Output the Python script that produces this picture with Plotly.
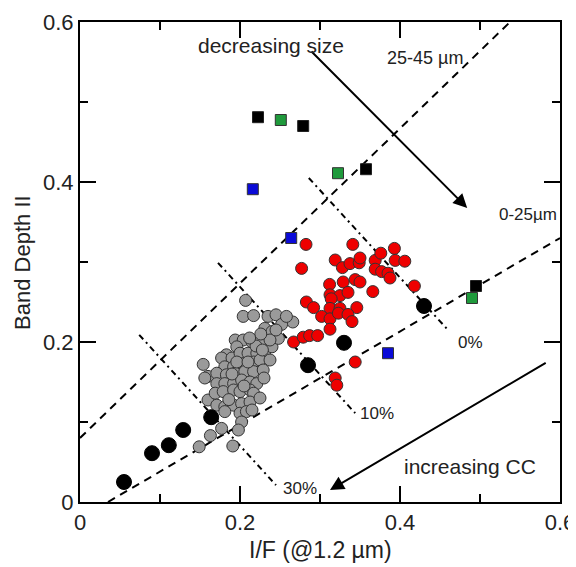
import plotly.graph_objects as go

# ---------------- data ----------------
gray_x = [0.207, 0.204, 0.217, 0.235, 0.245, 0.231, 0.240, 0.266, 0.154, 0.160,
          0.194, 0.204, 0.215, 0.225, 0.196, 0.183, 0.177, 0.190, 0.200, 0.210,
          0.221, 0.231, 0.240, 0.248, 0.2375, 0.181, 0.192, 0.204, 0.217, 0.225,
          0.2375, 0.171, 0.183, 0.194, 0.206, 0.217, 0.229, 0.171, 0.181, 0.192,
          0.202, 0.2125, 0.221, 0.160, 0.169, 0.179, 0.192, 0.200, 0.2125, 0.217,
          0.171, 0.181, 0.192, 0.202, 0.2125, 0.181, 0.200, 0.208, 0.215, 0.202,
          0.198, 0.191, 0.149, 0.163, 0.177, 0.156, 0.225, 0.230, 0.186, 0.205,
          0.196, 0.210, 0.220, 0.190, 0.252, 0.258, 0.226, 0.228, 0.245, 0.212]
gray_y = [0.252, 0.232, 0.233, 0.232, 0.234, 0.217, 0.213, 0.225, 0.172, 0.157,
          0.2025, 0.2025, 0.200, 0.200, 0.194, 0.184, 0.180, 0.180, 0.186, 0.186,
          0.186, 0.188, 0.194, 0.2045, 0.2025, 0.169, 0.169, 0.173, 0.175, 0.1775,
          0.1775, 0.161, 0.159, 0.161, 0.163, 0.163, 0.165, 0.148, 0.148, 0.148,
          0.1525, 0.150, 0.148, 0.1275, 0.136, 0.138, 0.140, 0.138, 0.140, 0.136,
          0.121, 0.119, 0.121, 0.123, 0.125, 0.113, 0.111, 0.113, 0.115, 0.100,
          0.090, 0.070, 0.069, 0.083, 0.092, 0.155, 0.130, 0.155, 0.128, 0.145,
          0.175, 0.175, 0.195, 0.160, 0.222, 0.232, 0.210, 0.190, 0.215, 0.205]

red_x = [0.2825, 0.341, 0.277, 0.319, 0.328, 0.3375, 0.349, 0.350, 0.369, 0.376,
         0.393, 0.394, 0.406, 0.369, 0.377, 0.385, 0.3875, 0.418, 0.312, 0.329,
         0.344, 0.350, 0.366, 0.3125, 0.325, 0.335, 0.283, 0.292, 0.314, 0.3125,
         0.325, 0.346, 0.302, 0.3125, 0.323, 0.335, 0.340, 0.3125, 0.267, 0.279,
         0.287, 0.297, 0.344, 0.319, 0.321]
red_y = [0.322, 0.322, 0.292, 0.3025, 0.293, 0.298, 0.299, 0.305, 0.302, 0.311,
         0.317, 0.302, 0.301, 0.291, 0.288, 0.286, 0.280, 0.270, 0.272, 0.275,
         0.278, 0.275, 0.263, 0.259, 0.258, 0.262, 0.250, 0.243, 0.254, 0.242,
         0.242, 0.243, 0.232, 0.229, 0.236, 0.2345, 0.2255, 0.216, 0.200, 0.206,
         0.208, 0.208, 0.175, 0.155, 0.146]

black_circ_x = [0.055, 0.090, 0.111, 0.129, 0.164, 0.285, 0.330, 0.430]
black_circ_y = [0.025, 0.061, 0.071, 0.090, 0.106, 0.171, 0.199, 0.245]

black_sq_x = [0.2225, 0.279, 0.3575, 0.495]
black_sq_y = [0.481, 0.470, 0.416, 0.270]
green_sq_x = [0.251, 0.3225, 0.490]
green_sq_y = [0.4775, 0.411, 0.255]
blue_sq_x = [0.216, 0.264, 0.385]
blue_sq_y = [0.391, 0.330, 0.186]

# size trend lines (dashed)
line_coarse_x = [0.0, 0.5375]
line_coarse_y = [0.080, 0.600]
line_fine_x = [0.035, 0.600]
line_fine_y = [0.000, 0.330]

# clinochlore-content lines (dash-dot)
cc0_x = [0.286, 0.460]
cc0_y = [0.405, 0.215]
cc10_x = [0.1725, 0.344]
cc10_y = [0.299, 0.111]
cc30_x = [0.074, 0.245]
cc30_y = [0.209, 0.021]

x_ticks = [0, 0.2, 0.4, 0.6]
x_ticktext = ["0", "0.2", "0.4", "0.6"]
y_ticks = [0, 0.2, 0.4, 0.6]
y_ticktext = ["0", "0.2", "0.4", "0.6"]
minor_ticks = [0.1, 0.3, 0.5]

FONT = "Liberation Sans, Arial, Helvetica, sans-serif"
TXT = "#222222"

fig = go.Figure()

dash_style = dict(color="black", width=2, dash="8px,6px")
dashdot_style = dict(color="black", width=2, dash="6px,4px,2px,4px")

for lx, ly in [(line_coarse_x, line_coarse_y), (line_fine_x, line_fine_y)]:
    fig.add_trace(go.Scatter(x=lx, y=ly, mode="lines", line=dash_style,
                             showlegend=False, hoverinfo="skip"))
for lx, ly in [(cc0_x, cc0_y), (cc10_x, cc10_y), (cc30_x, cc30_y)]:
    fig.add_trace(go.Scatter(x=lx, y=ly, mode="lines", line=dashdot_style,
                             showlegend=False, hoverinfo="skip"))

fig.add_trace(go.Scatter(x=gray_x, y=gray_y, mode="markers",
                         marker=dict(symbol="circle", size=12, color="#9a9a9a",
                                     line=dict(color="#333333", width=1)),
                         showlegend=False))
fig.add_trace(go.Scatter(x=red_x, y=red_y, mode="markers",
                         marker=dict(symbol="circle", size=12, color="#ee0000",
                                     line=dict(color="#333333", width=1)),
                         showlegend=False))
fig.add_trace(go.Scatter(x=black_circ_x, y=black_circ_y, mode="markers",
                         marker=dict(symbol="circle", size=15, color="black",
                                     line=dict(color="black", width=1)),
                         showlegend=False))
fig.add_trace(go.Scatter(x=black_sq_x, y=black_sq_y, mode="markers",
                         marker=dict(symbol="square", size=11, color="black",
                                     line=dict(color="#222222", width=1)),
                         showlegend=False))
fig.add_trace(go.Scatter(x=green_sq_x, y=green_sq_y, mode="markers",
                         marker=dict(symbol="square", size=11, color="#1f9a3c",
                                     line=dict(color="#333333", width=1)),
                         showlegend=False))
fig.add_trace(go.Scatter(x=blue_sq_x, y=blue_sq_y, mode="markers",
                         marker=dict(symbol="square", size=11, color="#0a0ad8",
                                     line=dict(color="#333333", width=1)),
                         showlegend=False))

annotations = [
    dict(x=0.484, y=0.3675, ax=0.2875, ay=0.565, xref="x", yref="y",
         axref="x", ayref="y", showarrow=True, arrowhead=2, arrowsize=1.4,
         arrowwidth=2, arrowcolor="black", text=""),
    dict(x=0.3125, y=0.015, ax=0.584, ay=0.175, xref="x", yref="y",
         axref="x", ayref="y", showarrow=True, arrowhead=2, arrowsize=1.4,
         arrowwidth=2, arrowcolor="black", text=""),
]
labels = [
    ("decreasing size", 0.239, 0.571, 21),
    ("25-45 µm", 0.431, 0.555, 18),
    ("0-25µm", 0.560, 0.359, 17),
    ("0%", 0.4875, 0.199, 17),
    ("10%", 0.371, 0.111, 17),
    ("30%", 0.275, 0.0175, 17),
    ("increasing CC", 0.487, 0.045, 21),
]
for txt, lx, ly, fs in labels:
    annotations.append(dict(x=lx, y=ly, xref="x", yref="y", text=txt,
                            showarrow=False, xanchor="center", yanchor="middle",
                            font=dict(family=FONT, size=fs, color=TXT)))

# axis titles placed as paper-referenced annotations
annotations.append(dict(x=0.5, y=-0.1, xref="paper", yref="paper",
                        text="I/F (@1.2 µm)", showarrow=False,
                        xanchor="center", yanchor="middle",
                        font=dict(family=FONT, size=23, color=TXT)))
annotations.append(dict(x=-0.121, y=0.5, xref="paper", yref="paper",
                        text="Band Depth II", showarrow=False, textangle=-90,
                        xanchor="center", yanchor="middle",
                        font=dict(family=FONT, size=22, color=TXT)))

axis_common = dict(
    range=[0, 0.6], showline=True, linecolor="black", linewidth=2,
    mirror="allticks", ticks="inside", ticklen=16, tickwidth=1.5,
    tickcolor="black", showgrid=False, zeroline=False, automargin=False,
    minor=dict(ticks="inside", ticklen=8, tickwidth=1.5, tickcolor="black",
               tickmode="array", tickvals=minor_ticks, showgrid=False),
    tickfont=dict(family=FONT, size=22, color=TXT),
    tickmode="array",
)

# The page body adds an 8 px offset, so the figure is 8 px smaller and the
# left/top margins are reduced by 8 px to keep the plot box at 80..560 / 22..502.
fig.update_layout(
    width=568, height=559,
    margin=dict(l=72, r=16, t=14, b=65, autoexpand=False),
    plot_bgcolor="white", paper_bgcolor="white",
    xaxis=dict(**axis_common, tickvals=x_ticks, ticktext=x_ticktext),
    yaxis=dict(**axis_common, tickvals=y_ticks, ticktext=y_ticktext),
    annotations=annotations,
)

fig.write_html("out.html")
